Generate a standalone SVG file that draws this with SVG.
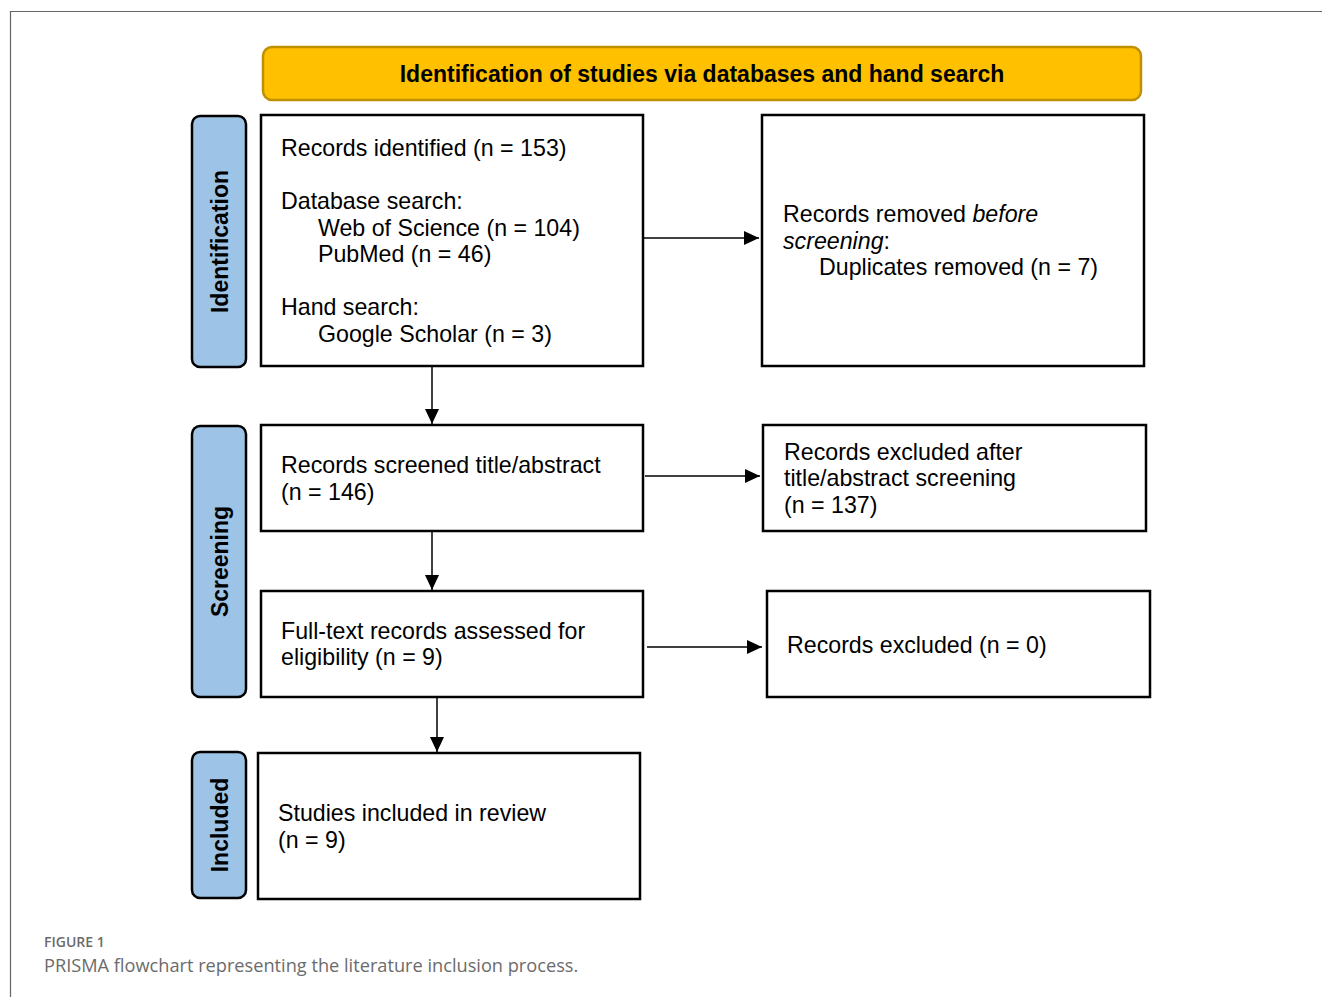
<svg xmlns="http://www.w3.org/2000/svg" width="1322" height="997" viewBox="0 0 1322 997">
<style>
.box{fill:#fff;stroke:#000;stroke-width:2.5}
.tab{fill:#9DC3E6;stroke:#000;stroke-width:2.5}
.t{font-family:"Liberation Sans",Arial,sans-serif;font-size:23.2px;fill:#000}
.tb{font-family:"Liberation Sans",Arial,sans-serif;font-size:23px;font-weight:bold;fill:#000}
.c{stroke:#000;stroke-width:1.5;fill:none}
.cap{font-family:"Open Sans",Lato,sans-serif;fill:#6b6b6b}
</style>
<defs>
<marker id="ah" markerWidth="15" markerHeight="14" refX="15" refY="7" orient="auto" markerUnits="userSpaceOnUse" viewBox="0 0 15 14">
<path d="M0,0 L15,7 L0,14 Z" fill="#000"/>
</marker>
</defs>
<rect width="1322" height="997" fill="#fff"/>
<path d="M10.5,997 V11.5 H1322" fill="none" stroke="#666" stroke-width="1.2"/>

<g id="header">
<rect x="263" y="47" width="878" height="53" rx="9" fill="#FFC000" stroke="#BF9000" stroke-width="2.5"/>
<text class="tb" x="702" y="82" text-anchor="middle">Identification of studies via databases and hand search</text>
</g>

<g id="tab-identification">
<rect class="tab" x="192" y="116" width="54" height="251" rx="8"/>
<text class="tb" transform="translate(228,241.5) rotate(-90)" text-anchor="middle">Identification</text>
</g>
<g id="tab-screening">
<rect class="tab" x="192" y="426" width="54" height="271" rx="8"/>
<text class="tb" transform="translate(228,561.5) rotate(-90)" text-anchor="middle">Screening</text>
</g>
<g id="tab-included">
<rect class="tab" x="192" y="752" width="54" height="146" rx="8"/>
<text class="tb" transform="translate(228,825) rotate(-90)" text-anchor="middle">Included</text>
</g>

<g id="node-identified">
<rect class="box" x="261" y="115" width="382" height="251"/>
<text class="t" x="281" y="156">Records identified (n = 153)</text>
<text class="t" x="281" y="209">Database search:</text>
<text class="t" x="318" y="236">Web of Science (n = 104)</text>
<text class="t" x="318" y="262">PubMed (n = 46)</text>
<text class="t" x="281" y="315">Hand search:</text>
<text class="t" x="318" y="342">Google Scholar (n = 3)</text>
</g>

<g id="node-removed">
<rect class="box" x="762" y="115" width="382" height="251"/>
<text class="t" x="783" y="222">Records removed <tspan font-style="italic">before</tspan></text>
<text class="t" x="783" y="249"><tspan font-style="italic">screening</tspan>:</text>
<text class="t" x="819" y="275">Duplicates removed (n = 7)</text>
</g>

<g id="node-screened">
<rect class="box" x="261" y="425" width="382" height="106"/>
<text class="t" x="281" y="473">Records screened title/abstract</text>
<text class="t" x="281" y="500">(n = 146)</text>
</g>

<g id="node-excluded-ta">
<rect class="box" x="763" y="425" width="383" height="106"/>
<text class="t" x="784" y="460">Records excluded after</text>
<text class="t" x="784" y="486">title/abstract screening</text>
<text class="t" x="784" y="513">(n = 137)</text>
</g>

<g id="node-fulltext">
<rect class="box" x="261" y="591" width="382" height="106"/>
<text class="t" x="281" y="639">Full-text records assessed for</text>
<text class="t" x="281" y="665">eligibility (n = 9)</text>
</g>

<g id="node-excluded">
<rect class="box" x="767" y="591" width="383" height="106"/>
<text class="t" x="787" y="653">Records excluded (n = 0)</text>
</g>

<g id="node-included">
<rect class="box" x="258" y="753" width="382" height="146"/>
<text class="t" x="278" y="821">Studies included in review</text>
<text class="t" x="278" y="848">(n = 9)</text>
</g>

<g id="connectors">
<line class="c" x1="644" y1="238" x2="759" y2="238" marker-end="url(#ah)"/>
<line class="c" x1="645" y1="476" x2="760" y2="476" marker-end="url(#ah)"/>
<line class="c" x1="647" y1="647" x2="762" y2="647" marker-end="url(#ah)"/>
<line class="c" x1="432" y1="367" x2="432" y2="424" marker-end="url(#ah)"/>
<line class="c" x1="432" y1="532" x2="432" y2="590" marker-end="url(#ah)"/>
<line class="c" x1="437" y1="698" x2="437" y2="752" marker-end="url(#ah)"/>
</g>

<g id="caption">
<text class="cap" x="44" y="947" font-size="14" font-weight="600">FIGURE 1</text>
<text class="cap" x="44" y="972" font-size="18.2">PRISMA flowchart representing the literature inclusion process.</text>
</g>
</svg>
